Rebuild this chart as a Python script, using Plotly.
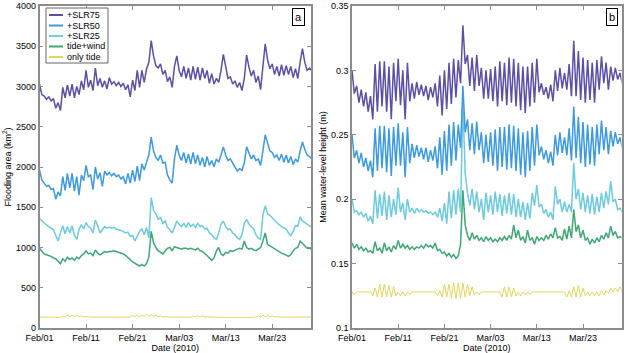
import pandas as pd
import plotly.graph_objects as go

# ---------------- data (half-day samples starting 2010-02-01 00:00) ----------------
series_names = ["+SLR75", "+SLR50", "+SLR25", "tide+wind", "only tide"]

slr75_area = [
    3030, 2900, 2880, 2840, 2870, 2820, 2850, 2730, 2800, 2700, 2990, 2860, 3020, 2880, 3030, 2860, 3000, 2900, 3070, 2960,
    3200, 2990, 3080, 2950, 3230, 3010, 3100, 2990, 3070, 2970, 3110, 3030, 3060, 3010, 3050, 3000, 3040, 2960, 3020, 2870,
    3080, 2950, 3200, 2990, 3200, 3050, 3220, 3300, 3570, 3380, 3260, 3230, 3280, 3150, 3200, 3060, 3120, 2990, 3250, 3380,
    3200, 3120, 3250, 3100, 3230, 3080, 3250, 3090, 3240, 3080, 3230, 3100, 3200, 3040, 3160, 3030, 3100, 3050, 3200, 3400,
    3250, 3100, 3120, 3030, 3070, 2990, 3050, 2950, 3100, 3390, 3240, 3130, 3200, 3050, 3130, 2960, 3250, 3530, 3330, 3220,
    3280, 3150, 3250, 3130, 3270, 3140, 3260, 3150, 3250, 3110, 3220, 3100, 3300, 3470, 3300, 3200, 3230, 3200]
slr50_area = [
    1960, 1840, 1800, 1760, 1770, 1720, 1730, 1600, 1690, 1640, 1880, 1710, 1920, 1740, 1920, 1700, 1880, 1650, 1900, 1830,
    2020, 1880, 1900, 1720, 2000, 1850, 1930, 1760, 1950, 1900, 1930, 1890, 1920, 1880, 1900, 1850, 1880, 1790, 1920, 1800,
    1960, 1820, 2010, 1830, 2040, 1960, 2060, 2150, 2370, 2200, 2120, 2080, 2150, 2050, 2060, 1900, 1840, 1800, 2100, 2270,
    2150, 2080, 2180, 2050, 2160, 2040, 2180, 2040, 2150, 2020, 2120, 2000, 2130, 2020, 2080, 2000, 2100, 2060, 2150, 2250,
    2150, 2080, 2100, 2040, 2000, 1950, 1980, 1960, 2050, 2250, 2180, 2100, 2150, 2080, 2100, 2020, 2200, 2400, 2300, 2200,
    2180, 2120, 2150, 2080, 2160, 2060, 2150, 2050, 2130, 2030, 2100, 2060, 2200, 2310, 2220, 2150, 2130, 2100]
slr25_area = [
    1360, 1330, 1300, 1280, 1260, 1240, 1220, 1150, 1080, 1180, 1270, 1170, 1260, 1180, 1270, 1150, 1100, 1230, 1280, 1230,
    1310, 1260, 1240, 1180, 1340, 1270, 1180, 1220, 1260, 1240, 1250, 1240, 1250, 1230, 1220, 1210, 1200, 1180, 1190, 1140,
    1150, 1080, 1150, 1200, 1230, 1160, 1250, 1120, 1620, 1460, 1420, 1350, 1370, 1300, 1330, 1250, 1220, 1180, 1250, 1330,
    1290, 1260, 1300, 1250, 1310, 1260, 1290, 1250, 1300, 1260, 1270, 1230, 1240, 1180, 1160, 1120, 1100, 1180, 1290, 1330,
    1260, 1220, 1230, 1180, 1160, 1120, 1100, 1160, 1300, 1350, 1290, 1260, 1230, 1160, 1120, 1100, 1400, 1520, 1420, 1400,
    1370, 1330, 1300, 1280, 1260, 1240, 1230, 1180, 1150, 1200, 1270, 1260, 1380, 1330, 1310, 1280, 1260, 1250]
tidewind_area = [
    990, 950, 920, 910, 900, 890, 870, 860, 830, 800, 860, 830, 880, 850, 870, 840, 880, 860, 900, 920,
    960, 920, 930, 900, 970, 930, 910, 930, 950, 940, 950, 950, 960, 950, 940, 930, 920, 900, 880, 850,
    820, 800, 790, 770, 790, 770, 800, 880, 1200, 1060, 1000, 960, 940, 920, 960, 990, 1000, 960, 1010, 1000,
    990, 980, 990, 990, 980, 990, 980, 970, 990, 960, 950, 930, 900, 870, 840, 870, 960, 1000, 920, 900,
    940, 930, 960, 950, 970, 980, 990, 980, 1080, 1000, 980, 990, 970, 960, 980, 1000, 1080, 1180, 1040, 1020,
    1000, 980, 960, 940, 930, 920, 900, 890, 910, 960, 990, 1000, 1080, 1050, 1010, 990, 990, 980]
tide_area = [
    135, 133, 135, 134, 135, 134, 135, 133, 135, 133, 150, 135, 165, 140, 160, 140, 160, 140, 150, 138,
    140, 135, 138, 135, 136, 134, 135, 134, 135, 134, 135, 134, 135, 134, 135, 134, 135, 133, 140, 135,
    155, 140, 160, 140, 165, 140, 170, 145, 165, 145, 160, 140, 150, 138, 140, 135, 136, 135, 135, 134,
    135, 134, 135, 134, 138, 135, 150, 135, 155, 135, 150, 136, 140, 135, 136, 134, 135, 133, 134, 132,
    133, 132, 133, 132, 133, 132, 133, 132, 133, 132, 134, 132, 138, 134, 150, 135, 160, 140, 160, 140,
    150, 137, 140, 135, 137, 135, 136, 135, 136, 135, 137, 135, 137, 135, 137, 136, 137, 136]

slr75_level = [
    0.300, 0.282, 0.288, 0.275, 0.285, 0.272, 0.283, 0.268, 0.280, 0.262, 0.305, 0.268, 0.307, 0.272, 0.307, 0.268, 0.303, 0.262, 0.306, 0.276,
    0.309, 0.273, 0.300, 0.262, 0.306, 0.276, 0.290, 0.278, 0.291, 0.281, 0.289, 0.280, 0.288, 0.277, 0.287, 0.279, 0.290, 0.272, 0.296, 0.265,
    0.300, 0.270, 0.306, 0.274, 0.309, 0.279, 0.308, 0.290, 0.335, 0.305, 0.312, 0.288, 0.310, 0.284, 0.312, 0.288, 0.302, 0.278, 0.300, 0.278,
    0.301, 0.276, 0.303, 0.272, 0.307, 0.276, 0.306, 0.273, 0.310, 0.275, 0.309, 0.272, 0.306, 0.269, 0.303, 0.267, 0.303, 0.272, 0.306, 0.275,
    0.309, 0.283, 0.290, 0.281, 0.287, 0.278, 0.289, 0.276, 0.300, 0.284, 0.302, 0.286, 0.298, 0.285, 0.305, 0.280, 0.323, 0.280, 0.315, 0.277,
    0.310, 0.275, 0.308, 0.277, 0.306, 0.275, 0.308, 0.285, 0.311, 0.290, 0.306, 0.285, 0.303, 0.292, 0.302, 0.293, 0.298, 0.290]
slr50_level = [
    0.250, 0.232, 0.238, 0.228, 0.236, 0.225, 0.232, 0.222, 0.230, 0.217, 0.255, 0.222, 0.257, 0.224, 0.257, 0.221, 0.255, 0.218, 0.256, 0.226,
    0.259, 0.226, 0.252, 0.217, 0.256, 0.228, 0.243, 0.232, 0.242, 0.233, 0.240, 0.231, 0.240, 0.229, 0.238, 0.230, 0.241, 0.224, 0.248, 0.219,
    0.253, 0.222, 0.258, 0.226, 0.260, 0.230, 0.258, 0.240, 0.288, 0.252, 0.262, 0.238, 0.259, 0.235, 0.260, 0.238, 0.252, 0.228, 0.250, 0.229,
    0.252, 0.226, 0.254, 0.222, 0.256, 0.225, 0.256, 0.223, 0.258, 0.224, 0.257, 0.222, 0.255, 0.219, 0.252, 0.217, 0.253, 0.222, 0.256, 0.226,
    0.258, 0.234, 0.241, 0.231, 0.238, 0.228, 0.237, 0.226, 0.250, 0.234, 0.252, 0.236, 0.248, 0.234, 0.255, 0.230, 0.272, 0.232, 0.264, 0.228,
    0.260, 0.225, 0.258, 0.227, 0.256, 0.226, 0.258, 0.235, 0.261, 0.238, 0.256, 0.235, 0.253, 0.241, 0.252, 0.243, 0.248, 0.240]
slr25_level = [
    0.200, 0.190, 0.191, 0.188, 0.190, 0.186, 0.189, 0.183, 0.187, 0.181, 0.207, 0.185, 0.204, 0.187, 0.206, 0.184, 0.203, 0.186, 0.200, 0.188,
    0.209, 0.190, 0.197, 0.184, 0.200, 0.190, 0.193, 0.189, 0.193, 0.190, 0.192, 0.190, 0.191, 0.189, 0.190, 0.188, 0.190, 0.186, 0.193, 0.183,
    0.197, 0.181, 0.206, 0.185, 0.207, 0.188, 0.208, 0.190, 0.275, 0.220, 0.205, 0.195, 0.208, 0.192, 0.206, 0.190, 0.200, 0.184, 0.205, 0.190,
    0.203, 0.188, 0.206, 0.190, 0.204, 0.187, 0.203, 0.189, 0.205, 0.188, 0.204, 0.186, 0.200, 0.186, 0.198, 0.184, 0.197, 0.185, 0.205, 0.195,
    0.211, 0.194, 0.196, 0.189, 0.192, 0.186, 0.190, 0.184, 0.210, 0.196, 0.200, 0.190, 0.198, 0.190, 0.196, 0.190, 0.228, 0.200, 0.208, 0.192,
    0.205, 0.190, 0.203, 0.189, 0.204, 0.188, 0.202, 0.190, 0.205, 0.193, 0.206, 0.196, 0.214, 0.198, 0.200, 0.192, 0.193, 0.190]
tidewind_level = [
    0.166, 0.162, 0.165, 0.161, 0.163, 0.160, 0.162, 0.159, 0.160, 0.158, 0.167, 0.160, 0.162, 0.158, 0.166, 0.160, 0.163, 0.159, 0.164, 0.161,
    0.168, 0.162, 0.165, 0.162, 0.164, 0.161, 0.163, 0.161, 0.163, 0.162, 0.164, 0.162, 0.165, 0.163, 0.164, 0.162, 0.166, 0.160, 0.161, 0.158,
    0.159, 0.156, 0.158, 0.155, 0.157, 0.154, 0.156, 0.165, 0.207, 0.180, 0.172, 0.168, 0.174, 0.169, 0.172, 0.168, 0.170, 0.167, 0.171, 0.168,
    0.170, 0.167, 0.169, 0.167, 0.170, 0.168, 0.171, 0.168, 0.172, 0.169, 0.180, 0.170, 0.176, 0.168, 0.171, 0.166, 0.176, 0.168, 0.170, 0.165,
    0.171, 0.168, 0.170, 0.168, 0.172, 0.169, 0.173, 0.170, 0.178, 0.170, 0.171, 0.168, 0.177, 0.169, 0.179, 0.170, 0.192, 0.175, 0.180, 0.170,
    0.176, 0.168, 0.170, 0.165, 0.169, 0.166, 0.170, 0.167, 0.172, 0.169, 0.174, 0.170, 0.179, 0.172, 0.175, 0.170, 0.171, 0.170]
tide_level = [
    0.128, 0.126, 0.128, 0.128, 0.128, 0.128, 0.128, 0.128, 0.128, 0.125, 0.131, 0.124, 0.134, 0.124, 0.134, 0.124, 0.133, 0.124, 0.132, 0.125,
    0.128, 0.125, 0.128, 0.125, 0.128, 0.126, 0.128, 0.128, 0.128, 0.128, 0.128, 0.128, 0.128, 0.128, 0.128, 0.128, 0.128, 0.125, 0.129, 0.124,
    0.134, 0.124, 0.134, 0.123, 0.135, 0.123, 0.135, 0.123, 0.135, 0.124, 0.134, 0.125, 0.132, 0.126, 0.128, 0.126, 0.128, 0.128, 0.128, 0.128,
    0.128, 0.128, 0.128, 0.128, 0.128, 0.124, 0.132, 0.124, 0.132, 0.124, 0.131, 0.125, 0.128, 0.125, 0.128, 0.126, 0.128, 0.126, 0.128, 0.128,
    0.128, 0.128, 0.128, 0.128, 0.128, 0.128, 0.128, 0.128, 0.128, 0.128, 0.128, 0.128, 0.128, 0.124, 0.129, 0.124, 0.132, 0.124, 0.133, 0.124,
    0.131, 0.125, 0.128, 0.125, 0.128, 0.125, 0.128, 0.125, 0.129, 0.126, 0.129, 0.127, 0.131, 0.128, 0.131, 0.128, 0.132, 0.128]

tick_dates = ["2010-02-01", "2010-02-11", "2010-02-21", "2010-03-03", "2010-03-13", "2010-03-23"]
tick_labels = ["Feb/01", "Feb/11", "Feb/21", "Mar/03", "Mar/13", "Mar/23"]
area_ticks = [0, 500, 1000, 1500, 2000, 2500, 3000, 3500, 4000]
level_ticks = [0.1, 0.15, 0.2, 0.25, 0.3, 0.35]
level_tick_labels = ["0.1", "0.15", "0.2", "0.25", "0.3", "0.35"]

# ---------------- styling ----------------
W, H = 624, 353
colors = ["#5b4fa6", "#3b9ae1", "#6ccbe0", "#3ea873", "#e3d65a"]
widths = [1.5, 1.5, 1.5, 1.5, 1.0]
FONT = "Liberation Sans, Arial, Helvetica, sans-serif"
AXC = "#8c8c8c"

start = pd.Timestamp("2010-02-01")
dates = [start + pd.Timedelta(hours=12 * i) for i in range(len(slr75_area))]
x_end = start + pd.Timedelta(hours=58 * 24 + 8)

area = [slr75_area, slr50_area, slr25_area, tidewind_area, tide_area]
level = [slr75_level, slr50_level, slr25_level, tidewind_level, tide_level]


def fx(px):
    return px / W


def fy(py):
    return 1 - py / H


fig = go.Figure()
for k in reversed(range(5)):
    fig.add_trace(go.Scatter(x=dates, y=area[k], mode="lines", name=series_names[k],
                             line=dict(color=colors[k], width=widths[k]),
                             showlegend=False, xaxis="x", yaxis="y"))
    fig.add_trace(go.Scatter(x=dates, y=level[k], mode="lines", name=series_names[k],
                             line=dict(color=colors[k], width=widths[k]),
                             showlegend=False, xaxis="x2", yaxis="y2"))

axis_common = dict(showline=True, linecolor=AXC, linewidth=1.5, mirror="ticks",
                   ticks="inside", ticklen=4, tickwidth=1, tickcolor=AXC,
                   showgrid=False, zeroline=False, automargin=False,
                   tickfont=dict(family=FONT, size=9, color="black"))

xdom_a = [fx(39.5), fx(311)]
xdom_b = [fx(352), fx(621.5)]
ydom = [fy(328), fy(6)]

xcommon = dict(axis_common, type="date", range=[start, x_end], tickmode="array",
               tickvals=tick_dates, ticktext=tick_labels,
               title=dict(text="Date (2010)", font=dict(family=FONT, size=9, color="black"), standoff=1))

fig.update_layout(
    width=W, height=H,
    margin=dict(l=0, r=0, t=0, b=0),
    paper_bgcolor="white", plot_bgcolor="white",
    font=dict(family=FONT, color="black"),
    showlegend=False,
    xaxis=dict(xcommon, domain=xdom_a, anchor="y"),
    xaxis2=dict(xcommon, domain=xdom_b, anchor="y2"),
    yaxis=dict(axis_common, domain=ydom, anchor="x", range=[0, 4000], tickmode="array",
               tickvals=area_ticks,
               title=dict(text="Flooding area (km<sup>2</sup>)",
                          font=dict(family=FONT, size=9, color="black"), standoff=3)),
    yaxis2=dict(axis_common, domain=ydom, anchor="x2", range=[0.1, 0.35], tickmode="array",
                tickvals=level_ticks, ticktext=level_tick_labels,
                title=dict(text="Mean water-level height (m)",
                           font=dict(family=FONT, size=9, color="black"), standoff=3)),
)

# manual compact legend (panel a, top-left)
shapes = [dict(type="rect", xref="paper", yref="paper",
               x0=fx(46), x1=fx(108), y0=fy(63), y1=fy(8),
               line=dict(color="#666666", width=1), fillcolor="white", layer="above")]
annotations = []
for k, name in enumerate(series_names):
    yc = 15 + 10.5 * k
    shapes.append(dict(type="line", xref="paper", yref="paper",
                       x0=fx(49), x1=fx(63), y0=fy(yc), y1=fy(yc),
                       line=dict(color=colors[k], width=2), layer="above"))
    annotations.append(dict(xref="paper", yref="paper", x=fx(65), y=fy(yc),
                            xanchor="left", yanchor="middle", text=name, showarrow=False,
                            font=dict(family=FONT, size=9, color="black")))

# panel labels
for lbl, xc in [("a", 298.5), ("b", 611.5)]:
    annotations.append(dict(xref="paper", yref="paper", x=fx(xc), y=fy(17),
                            xanchor="center", yanchor="middle", text=lbl, showarrow=False,
                            bordercolor="black", borderwidth=1, borderpad=2, bgcolor="white",
                            font=dict(family=FONT, size=11, color="black")))

fig.update_layout(shapes=shapes, annotations=annotations)
fig.write_html("out.html", config={"displayModeBar": False},
               post_script="document.body.style.margin='0px';document.body.style.overflow='hidden';")
